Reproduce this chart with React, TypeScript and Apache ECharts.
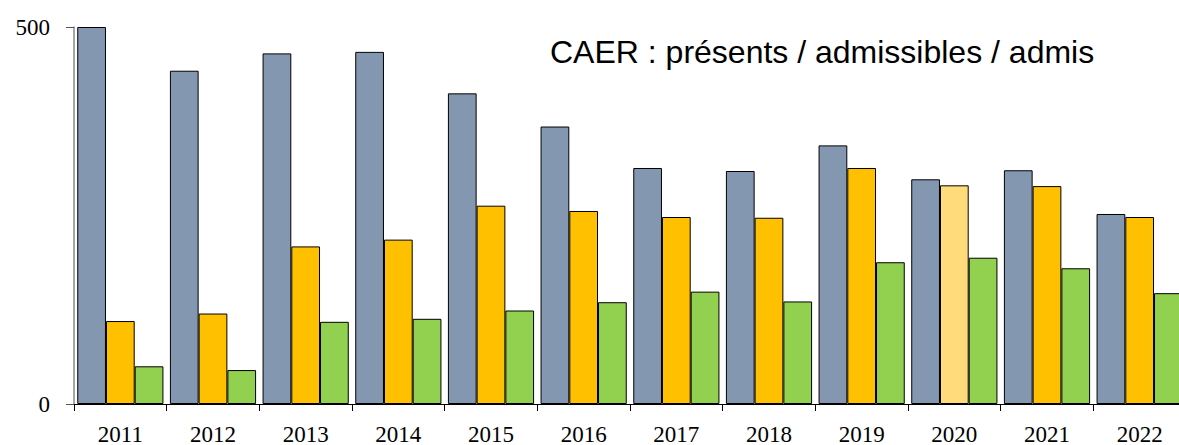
import React, { useEffect, useRef } from "react";
import * as echarts from "echarts";

const years = ["2011", "2012", "2013", "2014", "2015", "2016", "2017", "2018", "2019", "2020", "2021", "2022"];
const presents = [500, 442, 465, 467, 412, 368, 313, 309, 343, 298, 310, 252];
const admissibles = [110, 120, 209, 218, 263, 256, 248, 247, 313, 290, 289, 248];
const admis = [50, 45, 109, 113, 124, 135, 149, 136, 188, 194, 180, 147];
const highlightYear = "2020";
const titleText = "CAER : présents / admissibles / admis";

export default function App() {
  const ref = useRef<HTMLDivElement>(null);
  useEffect(() => {
    if (!ref.current) return;
    const chart = echarts.init(ref.current, null, { renderer: "svg" });
    const serif = "Liberation Serif";
    const border = { borderColor: "#000", borderWidth: 1 };
    chart.setOption({
      animation: false,
      backgroundColor: "#fff",
      title: {
        text: titleText,
        left: 545,
        top: 31,
        textStyle: { fontFamily: "Liberation Sans", fontSize: 32, fontWeight: "normal", color: "#000" },
      },
      grid: { left: 74, right: -7, top: 27, bottom: 41, outerBoundsMode: "none", containLabel: false },
      xAxis: {
        type: "category",
        data: years,
        axisLine: { lineStyle: { color: "#000", width: 1 } },
        axisTick: { show: true, length: 7, lineStyle: { color: "#000" } },
        axisLabel: { fontFamily: serif, fontSize: 23, lineHeight: 18, color: "#000", margin: 21 },
      },
      yAxis: {
        type: "value",
        min: 0,
        max: 500,
        interval: 500,
        splitLine: { show: false },
        axisLine: { show: true, lineStyle: { color: "#888", width: 1.5 } },
        axisTick: { show: true, length: 8, lineStyle: { color: "#555" } },
        axisLabel: { fontFamily: serif, fontSize: 23, color: "#000", margin: 24 },
      },
      series: [
        {
          type: "bar",
          name: "présents",
          data: presents,
          barGap: "0%",
          barCategoryGap: "7%",
          itemStyle: { color: "#8497B0", ...border },
        },
        {
          type: "bar",
          name: "admissibles",
          data: admissibles.map((v, i) =>
            years[i] === highlightYear ? { value: v, itemStyle: { color: "#FFDB7C" } } : v
          ),
          barGap: "0%",
          barCategoryGap: "7%",
          itemStyle: { color: "#FFC000", ...border },
        },
        {
          type: "bar",
          name: "admis",
          data: admis,
          barGap: "0%",
          barCategoryGap: "7%",
          itemStyle: { color: "#92D050", ...border },
        },
      ],
    });
    return () => chart.dispose();
  }, []);
  return (
    <div
      ref={ref}
      style={{ position: "absolute", left: 0, top: 0, width: 1179, height: 445 }}
    />
  );
}
